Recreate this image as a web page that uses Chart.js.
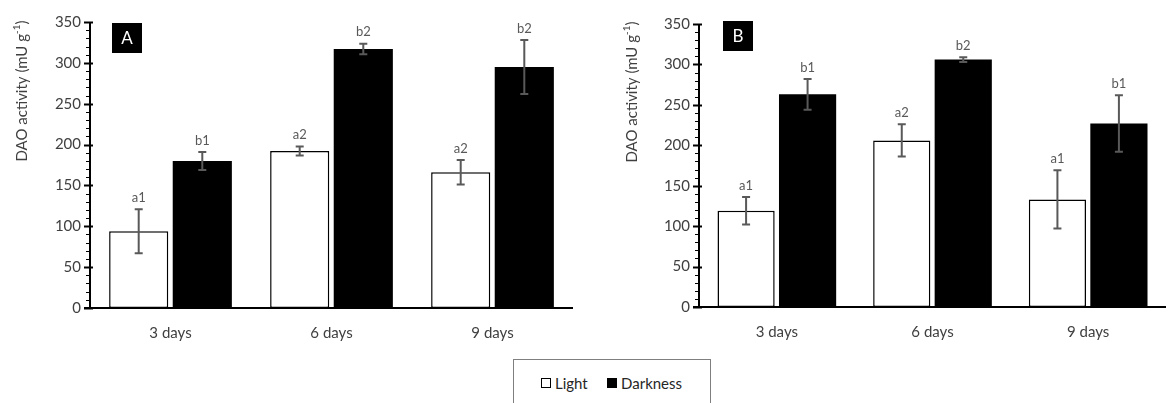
<!DOCTYPE html>
<html>
<head>
<meta charset="utf-8">
<script src="https://cdn.jsdelivr.net/npm/chart.js@4/dist/chart.umd.min.js"></script>
<style>
    body { margin: 0; width: 1168px; height: 403px; background: #fff; position: relative; overflow: hidden; font-family: Lato, sans-serif; }
    canvas { position: absolute; top: 0; }
    #chartA { left: 0; }
    #chartB { left: 600px; }
    .legend { position: absolute; left: 513px; top: 359px; width: 198px; height: 60px; border: 1px solid #7f7f7f; box-sizing: border-box; }
    .legend span { position: absolute; top: 14px; font-size: 15px; color: #262626; }
    .box { position: absolute; top: 18px; width: 10px; height: 10px; box-sizing: border-box; border: 1.5px solid #000; }
</style>
</head>
<body>
<canvas id="chartA" width="584" height="345"></canvas>
<canvas id="chartB" width="568" height="345"></canvas>
<div class="legend">
    <div class="box" style="left:27px;background:#fff"></div><span style="left:41px">Light</span>
    <div class="box" style="left:93px;background:#000"></div><span style="left:107px">Darkness</span>
</div>
<script>
// Dados
const categories = ['3 days', '6 days', '9 days'];
const yTicks = [0, 50, 100, 150, 200, 250, 300, 350];

// Painel A
const lightA = [94, 192, 166];
const lightErrA = [27, 5.5, 15];
const lightLettersA = ['a1', 'a2', 'a2'];
const darkA = [180, 317, 295];
const darkErrA = [11, 6.5, 33];
const darkLettersA = ['b1', 'b2', 'b2'];

// Painel B
const lightB = [119, 206, 133];
const lightErrB = [17, 20, 36];
const lightLettersB = ['a1', 'a2', 'a1'];
const darkB = [263, 306, 227];
const darkErrB = [19, 3, 35];
const darkLettersB = ['b1', 'b2', 'b1'];

const textColor = '#404040';
const fontFamily = 'Lato, sans-serif';

// Barras de erro + letras
const errorBarsPlugin = {
    id: 'errorBars',
    afterDatasetsDraw(chart) {
        const ctx = chart.ctx;
        const y = chart.scales.y;
        chart.data.datasets.forEach(function(ds, di) {
            const meta = chart.getDatasetMeta(di);
            meta.data.forEach(function(bar, i) {
                const v = ds.data[i];
                const e = ds.errors[i];
                const top = y.getPixelForValue(v + e);
                const bot = y.getPixelForValue(v - e);
                ctx.save();
                ctx.strokeStyle = '#595959';
                ctx.lineWidth = 2;
                ctx.beginPath();
                ctx.moveTo(bar.x, top); ctx.lineTo(bar.x, bot);
                ctx.moveTo(bar.x - 4, top); ctx.lineTo(bar.x + 4, top);
                ctx.moveTo(bar.x - 4, bot); ctx.lineTo(bar.x + 4, bot);
                ctx.stroke();
                ctx.fillStyle = '#595959';
                ctx.font = '13px ' + fontFamily;
                ctx.textAlign = 'center';
                ctx.textBaseline = 'bottom';
                ctx.fillText(ds.letters[i], bar.x, top - 5);
                ctx.restore();
            });
        });
    }
};

// Eixos, marcas, título do eixo e rótulo do painel
const decorPlugin = {
    id: 'decor',
    afterDraw(chart, args, opts) {
        const ctx = chart.ctx;
        const area = chart.chartArea;
        const y = chart.scales.y;
        ctx.save();
        ctx.strokeStyle = '#000';
        ctx.lineWidth = 2;
        ctx.beginPath();
        ctx.moveTo(area.left, y.getPixelForValue(350));
        ctx.lineTo(area.left, area.bottom);
        ctx.moveTo(area.left - 6, area.bottom);
        ctx.lineTo(area.right, area.bottom);
        ctx.stroke();
        ctx.lineWidth = 1;
        for (let v = 0; v <= 350; v += 10) {
            const py = Math.round(y.getPixelForValue(v)) + 0.5;
            ctx.beginPath();
            if (v % 50 === 0) {
                ctx.lineWidth = 2;
                ctx.moveTo(area.left - 6, py); ctx.lineTo(area.left + 3, py);
            } else {
                ctx.lineWidth = 1;
                ctx.moveTo(area.left - 4, py); ctx.lineTo(area.left, py);
            }
            ctx.stroke();
        }

        // título do eixo y com sobrescrito
        ctx.translate(opts.titleX, opts.titleY);
        ctx.rotate(-Math.PI / 2);
        ctx.fillStyle = textColor;
        ctx.textBaseline = 'middle';
        const main = 'DAO activity (mU g';
        ctx.font = '15px ' + fontFamily;
        const w1 = ctx.measureText(main).width;
        ctx.font = '10px ' + fontFamily;
        const w2 = ctx.measureText('-1').width;
        ctx.font = '15px ' + fontFamily;
        const w3 = ctx.measureText(')').width;
        let x = -(w1 + w2 + w3) / 2;
        ctx.fillText(main, x, 0);
        x += w1;
        ctx.font = '10px ' + fontFamily;
        ctx.fillText('-1', x, -5);
        x += w2;
        ctx.font = '15px ' + fontFamily;
        ctx.fillText(')', x, 0);
        ctx.restore();

        ctx.save();
        ctx.fillStyle = '#000';
        ctx.fillRect(opts.boxX, opts.boxY, 30, 30);
        ctx.fillStyle = '#fff';
        ctx.font = '17px ' + fontFamily;
        ctx.textAlign = 'center';
        ctx.textBaseline = 'middle';
        ctx.fillText(opts.label, opts.boxX + 15, opts.boxY + 16);
        ctx.restore();
    }
};

function makeChart(id, light, lightErr, lightLetters, dark, darkErr, darkLetters, layout) {
    const ctx = document.getElementById(id).getContext('2d');
    return new Chart(ctx, {
        type: 'bar',
        data: {
            labels: categories,
            datasets: [{
                label: 'Light',
                data: light,
                errors: lightErr,
                letters: lightLetters,
                backgroundColor: '#ffffff',
                borderColor: '#000000',
                borderWidth: 1.5,
                borderSkipped: false
            }, {
                label: 'Darkness',
                data: dark,
                errors: darkErr,
                letters: darkLetters,
                backgroundColor: '#000000',
                borderWidth: 0
            }]
        },
        options: {
            responsive: false,
            animation: false,
            categoryPercentage: 0.79,
            barPercentage: 0.93,
            layout: { padding: { top: layout.top, right: layout.right, left: 0, bottom: 0 } },
            scales: {
                x: {
                    grid: { display: false, drawTicks: false },
                    border: { display: false },
                    ticks: { color: textColor, font: { family: fontFamily, size: 15 }, padding: 16, maxRotation: 0 },
                    afterFit: function(scale) { scale.height = layout.xHeight; }
                },
                y: {
                    min: 0,
                    max: 350,
                    afterBuildTicks: function(scale) { scale.ticks = yTicks.map(function(v) { return { value: v }; }); },
                    grid: { display: false, drawTicks: false },
                    border: { display: false },
                    ticks: { color: textColor, font: { family: fontFamily, size: 15 }, padding: 9 },
                    afterFit: function(scale) { scale.width = layout.yWidth; }
                }
            },
            plugins: {
                legend: { display: false },
                tooltip: { enabled: false },
                decor: { titleX: layout.titleX, titleY: layout.titleY, boxX: layout.boxX, boxY: layout.boxY, label: layout.label }
            }
        },
        plugins: [errorBarsPlugin, decorPlugin]
    });
}

makeChart('chartA', lightA, lightErrA, lightLettersA, darkA, darkErrA, darkLettersA,
    { top: 22, right: 11, xHeight: 37, yWidth: 90, titleX: 22, titleY: 91, boxX: 112, boxY: 23, label: 'A' });
makeChart('chartB', lightB, lightErrB, lightLettersB, darkB, darkErrB, darkLettersB,
    { top: 24, right: 2, xHeight: 38, yWidth: 99, titleX: 32, titleY: 92, boxX: 123, boxY: 21, label: 'B' });
</script>
</body>
</html>
